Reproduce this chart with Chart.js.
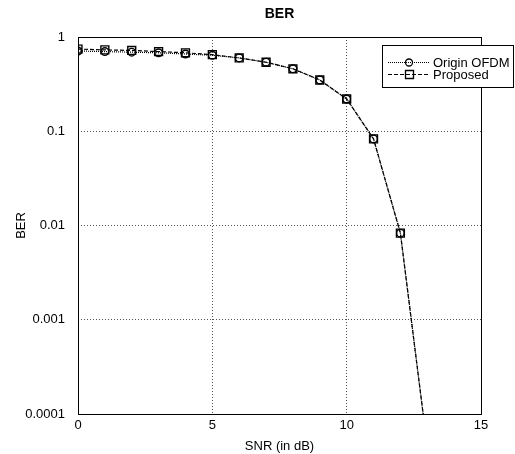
<!DOCTYPE html>
<html>
<head>
<meta charset="utf-8">
<script src="https://cdn.jsdelivr.net/npm/chart.js@4/dist/chart.umd.min.js"></script>
<style>
  html, body { margin: 0; padding: 0; background: #fff; }
  #wrap { width: 515px; height: 454px; }
</style>
</head>
<body>
<div id="wrap"><canvas id="c" width="515" height="454"></canvas></div>
<script>
// ---- data ----
const snr = [0, 1, 2, 3, 4, 5, 6, 7, 8, 9, 10, 11, 12, 13];
const originOFDM = [0.71, 0.70, 0.69, 0.68, 0.66, 0.64, 0.60, 0.54, 0.46, 0.35, 0.22, 0.083, 0.0083, 0.000045];
const proposed   = [0.745, 0.73, 0.72, 0.70, 0.68, 0.65, 0.60, 0.54, 0.46, 0.35, 0.22, 0.083, 0.0083, 0.000045];
const xTicks = [0, 5, 10, 15];
const yTicks = [1, 0.1, 0.01, 0.001, 0.0001];
const yTickLabels = ['1', '0.1', '0.01', '0.001', '0.0001'];
const seriesNames = ['Origin OFDM', 'Proposed'];

const FONT = "'Liberation Sans', Arial, sans-serif";

const frame = {
  id: 'frame',
  afterDatasetsDraw(chart) {
    const a = chart.chartArea, ctx = chart.ctx;
    ctx.save();
    ctx.strokeStyle = '#000';
    ctx.lineWidth = 1;
    ctx.setLineDash([]);
    ctx.strokeRect(Math.round(a.left) + 0.5, Math.round(a.top) + 0.5,
                   Math.round(a.right - a.left), Math.round(a.bottom - a.top));
    ctx.restore();
  }
};

const legendBox = {
  id: 'legendBox',
  afterDraw(chart) {
    const ctx = chart.ctx;
    const bx = 382.5, by = 45.5, bw = 131, bh = 42;
    ctx.save();
    ctx.fillStyle = '#fff';
    ctx.fillRect(bx, by, bw, bh);
    ctx.strokeStyle = '#000';
    ctx.lineWidth = 1;
    ctx.strokeRect(bx, by, bw, bh);
    const rows = [62, 74];
    const dashes = [[1, 1], [4, 2]];
    ctx.font = '13px ' + FONT;
    ctx.textBaseline = 'middle';
    ctx.fillStyle = '#000';
    rows.forEach((ry, i) => {
      ctx.beginPath();
      ctx.setLineDash(dashes[i]);
      ctx.moveTo(388, ry + 0.5);
      ctx.lineTo(430, ry + 0.5);
      ctx.stroke();
      ctx.setLineDash([]);
      ctx.beginPath();
      if (i === 0) {
        ctx.arc(409, ry + 0.5, 3.5, 0, Math.PI * 2);
      } else {
        ctx.rect(405.5, ry - 3.5, 8, 8);
      }
      ctx.lineWidth = 1.3;
      ctx.stroke();
      ctx.lineWidth = 1;
      ctx.fillText(seriesNames[i], 433, ry + 1);
    });
    ctx.restore();
  }
};

new Chart(document.getElementById('c'), {
  type: 'line',
  data: {
    labels: snr,
    datasets: [
      {
        label: seriesNames[0],
        data: snr.map((x, i) => ({ x: x, y: originOFDM[i] })),
        borderColor: '#000',
        borderWidth: 1.2,
        borderDash: [1, 1],
        pointStyle: 'circle',
        pointRadius: 3.8,
        pointBorderWidth: 1.4,
        pointBorderColor: '#000',
        pointBackgroundColor: 'rgba(255,255,255,0)',
        tension: 0,
        fill: false
      },
      {
        label: seriesNames[1],
        data: snr.map((x, i) => ({ x: x, y: proposed[i] })),
        borderColor: '#000',
        borderWidth: 1.2,
        borderDash: [4, 2],
        pointStyle: 'rect',
        pointRadius: 5.6,
        pointBorderWidth: 1.4,
        pointBorderColor: '#000',
        pointBackgroundColor: 'rgba(255,255,255,0)',
        tension: 0,
        fill: false
      }
    ]
  },
  options: {
    responsive: false,
    animation: false,
    devicePixelRatio: 1,
    layout: { padding: { left: 0, right: 34, top: 0, bottom: 0 } },
    plugins: {
      legend: { display: false },
      tooltip: { enabled: false },
      title: {
        display: true,
        text: 'BER',
        fullSize: false,
        color: '#000',
        font: { family: FONT, size: 14, weight: 'bold' },
        padding: { top: 5.6, bottom: 14.6 }
      }
    },
    scales: {
      x: {
        type: 'linear',
        min: 0,
        max: 15,
        afterBuildTicks(scale) { scale.ticks = xTicks.map(v => ({ value: v })); },
        afterFit(scale) { scale.height = 40; },
        ticks: {
          color: '#000',
          font: { family: FONT, size: 13 },
          padding: 4,
          maxRotation: 0,
          callback: (v) => String(v)
        },
        grid: { color: '#555', lineWidth: 1, drawTicks: false },
        border: { display: false, dash: [1, 2] },
        title: {
          display: true,
          text: 'SNR (in dB)',
          color: '#000',
          font: { family: FONT, size: 13 },
          padding: { top: 0, bottom: 0 }
        }
      },
      y: {
        type: 'logarithmic',
        min: 0.0001,
        max: 1,
        afterBuildTicks(scale) { scale.ticks = yTicks.map(v => ({ value: v })); },
        afterFit(scale) { scale.width = 78; },
        ticks: {
          color: '#000',
          font: { family: FONT, size: 13 },
          padding: 13,
          callback: (v) => {
            const i = yTicks.findIndex(t => Math.abs(Math.log10(t) - Math.log10(v)) < 1e-6);
            return i >= 0 ? yTickLabels[i] : '';
          }
        },
        grid: { color: '#555', lineWidth: 1, drawTicks: false },
        border: { display: false, dash: [1, 2] },
        title: {
          display: true,
          text: 'BER',
          color: '#000',
          font: { family: FONT, size: 13 },
          padding: { top: 14, bottom: 0 }
        }
      }
    }
  },
  plugins: [frame, legendBox]
});
</script>
</body>
</html>
